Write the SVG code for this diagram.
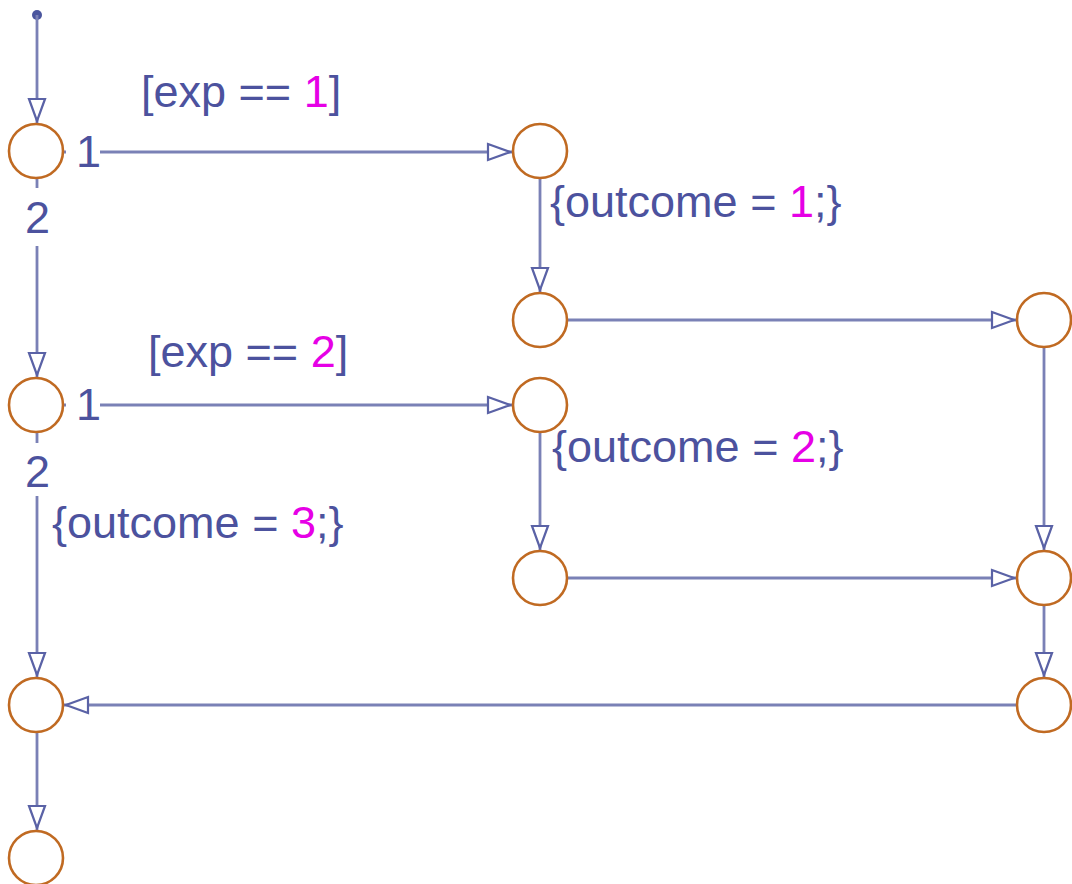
<svg xmlns="http://www.w3.org/2000/svg" width="1072" height="884" viewBox="0 0 1072 884">
<style>
.st{fill:#ffffff;stroke:#c06a22;stroke-width:2.6}
.ln{fill:none;stroke:#7a81b6;stroke-width:2.8}
.tx{font-family:"Liberation Sans",Arial,sans-serif;font-size:45px;fill:#4c529e}
.num{fill:#e600e6}
.bg{fill:#ffffff}
</style>
<defs>
<marker id="ah" markerUnits="userSpaceOnUse" viewBox="-2 -10 28 20" refX="24" refY="0" markerWidth="28" markerHeight="20" orient="auto">
<path d="M0,-8 L22,0 L0,8 Z" fill="#ffffff" stroke="#5a62a6" stroke-width="2.2"/>
</marker>
</defs>
<rect width="1072" height="884" fill="#ffffff"/>
<g id="connectors">
<circle cx="37" cy="15" r="5" fill="#4a559e"/>
<line class="ln" x1="37" y1="15" x2="37" y2="123" marker-end="url(#ah)"/>
<line class="ln" x1="63" y1="152" x2="512" y2="152" marker-end="url(#ah)"/>
<line class="ln" x1="37" y1="178" x2="37" y2="377" marker-end="url(#ah)"/>
<line class="ln" x1="540" y1="178" x2="540" y2="292" marker-end="url(#ah)"/>
<line class="ln" x1="567" y1="320" x2="1016" y2="320" marker-end="url(#ah)"/>
<line class="ln" x1="1044" y1="347" x2="1044" y2="550" marker-end="url(#ah)"/>
<line class="ln" x1="63" y1="405" x2="512" y2="405" marker-end="url(#ah)"/>
<line class="ln" x1="37" y1="432" x2="37" y2="677" marker-end="url(#ah)"/>
<line class="ln" x1="540" y1="432" x2="540" y2="550" marker-end="url(#ah)"/>
<line class="ln" x1="567" y1="578" x2="1016" y2="578" marker-end="url(#ah)"/>
<line class="ln" x1="1044" y1="605" x2="1044" y2="677" marker-end="url(#ah)"/>
<line class="ln" x1="1017" y1="705" x2="64" y2="705" marker-end="url(#ah)"/>
<line class="ln" x1="37" y1="732" x2="37" y2="830" marker-end="url(#ah)"/>
<rect class="bg" x="66" y="130" width="34" height="42"/>
<rect class="bg" x="22" y="188" width="33" height="58"/>
<rect class="bg" x="66" y="383" width="34" height="42"/>
<rect class="bg" x="22" y="443" width="33" height="53"/>
<text class="tx" x="141" y="107">[exp == <tspan class="num">1</tspan>]</text>
<text class="tx" x="76" y="167">1</text>
<text class="tx" x="25" y="233">2</text>
<text class="tx" x="550" y="217">{outcome = <tspan class="num">1</tspan>;}</text>
<text class="tx" x="148" y="367">[exp == <tspan class="num">2</tspan>]</text>
<text class="tx" x="76" y="420">1</text>
<text class="tx" x="25" y="487">2</text>
<text class="tx" x="552" y="462">{outcome = <tspan class="num">2</tspan>;}</text>
<text class="tx" x="52" y="538">{outcome = <tspan class="num">3</tspan>;}</text>
</g>
<g id="nA"><circle class="st" cx="36" cy="151" r="27"/></g>
<g id="nB"><circle class="st" cx="540" cy="151" r="27"/></g>
<g id="nC"><circle class="st" cx="540" cy="320" r="27"/></g>
<g id="nD"><circle class="st" cx="1044" cy="320" r="27"/></g>
<g id="nE"><circle class="st" cx="36" cy="405" r="27"/></g>
<g id="nF"><circle class="st" cx="540" cy="405" r="27"/></g>
<g id="nG"><circle class="st" cx="540" cy="578" r="27"/></g>
<g id="nH"><circle class="st" cx="1044" cy="578" r="27"/></g>
<g id="nI"><circle class="st" cx="1044" cy="705" r="27"/></g>
<g id="nJ"><circle class="st" cx="36" cy="705" r="27"/></g>
<g id="nK"><circle class="st" cx="36" cy="858" r="27"/></g>
</svg>
